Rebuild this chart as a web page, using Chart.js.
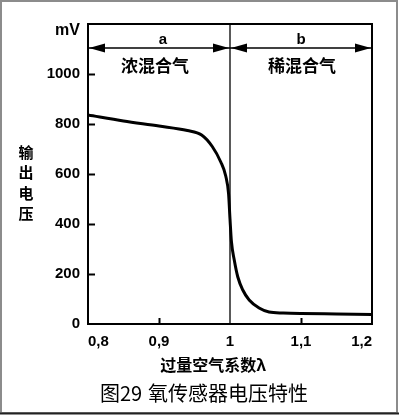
<!DOCTYPE html>
<html>
<head>
<meta charset="utf-8">
<script src="https://cdn.jsdelivr.net/npm/chart.js@4"></script>
<style>
  html, body { margin: 0; padding: 0; background: #fff; }
  #wrap { width: 399px; height: 415px; position: relative; }
</style>
</head>
<body>
<div id="wrap"><canvas id="chart" width="399" height="415"></canvas></div>
<script>
'use strict';

// ── Data ──────────────────────────────────────────────────────────────────────
const lambdaValues = [0.80, 0.85, 0.90, 0.94, 0.96, 0.975, 0.987, 0.994, 0.998, 1.000,
                      1.002, 1.006, 1.011, 1.018, 1.027, 1.041, 1.055, 1.075, 1.10, 1.15, 1.20];
const voltageMv    = [836, 812, 792, 774, 756, 710, 648, 592, 520, 420,
                      330, 256, 188, 136, 96, 64, 48, 44, 42, 40, 38];
const xTickLabels  = ['0,8', '0,9', '1', '1,1', '1,2'];
const xMarkTicks   = [0.9, 1.1];
const yMarkTicks   = [200, 400, 600, 800, 1000];
const regionLabels = ['a', 'b'];
const regionNames  = ['浓混合气', '稀混合气'];
const yTitleChars  = ['输', '出', '电', '压'];
const xTitle       = '过量空气系数λ';
const captionNo    = '图29';
const captionText  = '氧传感器电压特性';
const yUnit        = 'mV';

const LATIN = "'Liberation Sans', Arial, sans-serif";
const CJK   = "'Noto Sans CJK SC', 'Noto Sans', sans-serif";

function arrowHead(ctx, tipX, y, dir) {
  // dir = -1 points left, +1 points right
  ctx.beginPath();
  ctx.moveTo(tipX, y);
  ctx.lineTo(tipX - dir * 16, y - 4.5);
  ctx.lineTo(tipX - dir * 16, y + 4.5);
  ctx.closePath();
  ctx.fill();
}

const decor = {
  id: 'decor',
  afterDraw(chart) {
    const ctx = chart.ctx;
    const { left, right, top, bottom } = chart.chartArea;
    const xs = chart.scales.x, ys = chart.scales.y;
    const xMid = xs.getPixelForValue(1.0);
    ctx.save();

    // outer picture frame
    ctx.strokeStyle = '#8c8c8c';
    ctx.lineWidth = 2;
    ctx.strokeRect(1, 1, 396, 412);
    ctx.strokeStyle = '#222';
    ctx.beginPath(); ctx.moveTo(0, 413.5); ctx.lineTo(399, 413.5); ctx.stroke();

    // plot box
    ctx.strokeStyle = '#000';
    ctx.lineWidth = 2;
    ctx.strokeRect(left, top, right - left, bottom - top);

    // divider at lambda = 1
    ctx.lineWidth = 1.3;
    ctx.beginPath(); ctx.moveTo(xMid, top); ctx.lineTo(xMid, bottom); ctx.stroke();

    // inward tick marks
    ctx.lineWidth = 2;
    yMarkTicks.forEach(v => {
      const y = Math.round(ys.getPixelForValue(v)) + 0.5;
      ctx.beginPath(); ctx.moveTo(left, y); ctx.lineTo(left + 7, y); ctx.stroke();
    });
    xMarkTicks.forEach(v => {
      const x = Math.round(xs.getPixelForValue(v)) + 0.5;
      ctx.beginPath(); ctx.moveTo(x, bottom); ctx.lineTo(x, bottom - 6); ctx.stroke();
    });

    // region arrows
    const ay = 48;
    ctx.lineWidth = 1.5;
    ctx.beginPath(); ctx.moveTo(left, ay); ctx.lineTo(right, ay); ctx.stroke();
    ctx.fillStyle = '#000';
    arrowHead(ctx, left + 1, ay, -1);
    arrowHead(ctx, xMid - 1, ay, 1);
    arrowHead(ctx, xMid + 1, ay, -1);
    arrowHead(ctx, right - 1, ay, 1);

    ctx.textAlign = 'center';
    ctx.textBaseline = 'middle';
    ctx.font = 'bold 15px ' + LATIN;
    ctx.fillText(regionLabels[0], (left + xMid) / 2 + 4, 40);
    ctx.fillText(regionLabels[1], (xMid + right) / 2, 40);
    ctx.font = 'bold 17px ' + CJK;
    ctx.fillText(regionNames[0], 155, 66);
    ctx.fillText(regionNames[1], 302, 66);

    // y unit and title
    ctx.textAlign = 'right';
    ctx.font = 'bold 16px ' + LATIN;
    ctx.fillText(yUnit, 80, 31);
    ctx.textAlign = 'center';
    ctx.font = 'bold 15px ' + CJK;
    yTitleChars.forEach((c, i) => ctx.fillText(c, 26, 152 + i * 20.5));

    // x title and caption
    ctx.font = 'bold 16px ' + CJK;
    ctx.fillText(xTitle, 213, 365);
    ctx.font = '20px ' + CJK;
    ctx.textAlign = 'left';
    ctx.fillText(captionNo, 100, 393);
    ctx.fillText(captionText, 148, 393);

    ctx.restore();
  },
};

new Chart(document.getElementById('chart'), {
  type: 'scatter',
  data: {
    datasets: [{
      label: 'U',
      data: lambdaValues.map((x, i) => ({ x, y: voltageMv[i] })),
      showLine: true,
      borderColor: '#000',
      borderWidth: 3,
      pointRadius: 0,
      cubicInterpolationMode: 'monotone',
    }],
  },
  options: {
    responsive: false,
    animation: false,
    layout: { padding: { top: 24, right: 27, left: 0, bottom: 0 } },
    plugins: { legend: { display: false }, tooltip: { enabled: false } },
    scales: {
      x: {
        type: 'linear', min: 0.8, max: 1.2,
        afterFit: s => { s.height = 91; },
        grid: { display: false, drawTicks: false },
        border: { display: false },
        ticks: {
          stepSize: 0.1, autoSkip: false, maxRotation: 0, padding: 9, align: 'inner',
          color: '#000', font: { family: LATIN, size: 15, weight: 'bold' },
          callback: (v, i) => xTickLabels[i],
        },
      },
      y: {
        min: 0, max: 1200,
        afterFit: s => { s.width = 88; },
        grid: { display: false, drawTicks: false },
        border: { display: false },
        ticks: {
          stepSize: 200, padding: 8,
          color: '#000', font: { family: LATIN, size: 15, weight: 'bold' },
          callback: v => (v >= 1200 ? null : String(v)),
        },
      },
    },
  },
  plugins: [decor],
});
</script>
</body>
</html>
